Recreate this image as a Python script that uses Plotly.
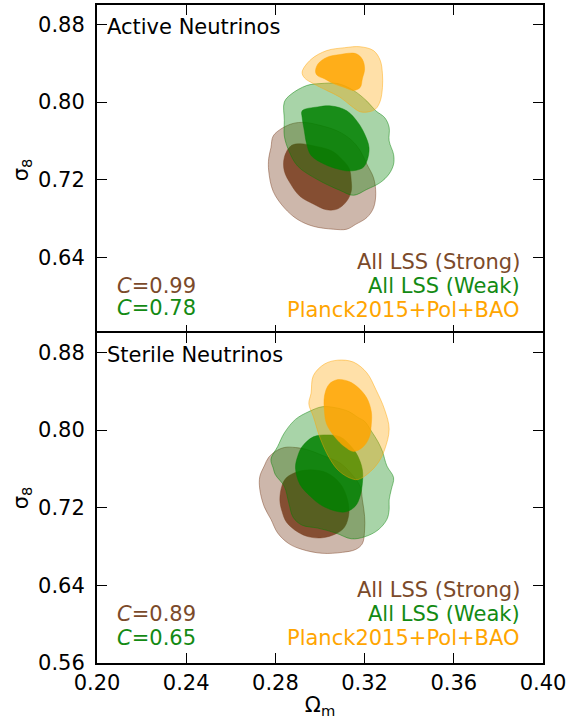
import plotly.graph_objects as go
from plotly.subplots import make_subplots

# ---------------- data (Omega_m, sigma_8) contour outlines ----------------
# Active neutrinos (top panel)
act_strong_outer_om = [0.278, 0.279, 0.283, 0.288, 0.293, 0.300, 0.308, 0.314, 0.318, 0.321, 0.324, 0.325,
                       0.324, 0.321, 0.316, 0.312, 0.306, 0.297, 0.290, 0.284, 0.279, 0.277, 0.277]
act_strong_outer_s8 = [0.753, 0.765, 0.773, 0.778, 0.779, 0.776, 0.770, 0.761, 0.750, 0.736, 0.722, 0.706,
                       0.691, 0.681, 0.674, 0.669, 0.669, 0.672, 0.679, 0.691, 0.708, 0.729, 0.742]
act_strong_inner_om = [0.287, 0.291, 0.297, 0.305, 0.309, 0.313, 0.314, 0.314, 0.312, 0.308, 0.303, 0.297,
                       0.291, 0.287, 0.284, 0.284]
act_strong_inner_s8 = [0.755, 0.757, 0.755, 0.750, 0.743, 0.732, 0.719, 0.708, 0.698, 0.690, 0.689, 0.695,
                       0.703, 0.715, 0.729, 0.743]
act_weak_outer_om = [0.284, 0.284, 0.287, 0.294, 0.300, 0.308, 0.315, 0.321, 0.325, 0.329, 0.331, 0.331,
                     0.333, 0.333, 0.331, 0.327, 0.321, 0.315, 0.309, 0.299, 0.290, 0.286, 0.284]
act_weak_outer_s8 = [0.781, 0.800, 0.808, 0.817, 0.819, 0.819, 0.812, 0.801, 0.791, 0.784, 0.774, 0.760,
                     0.746, 0.736, 0.726, 0.717, 0.710, 0.704, 0.709, 0.720, 0.734, 0.750, 0.765]
act_weak_inner_om = [0.292, 0.299, 0.305, 0.312, 0.317, 0.320, 0.322, 0.321, 0.319, 0.313, 0.308, 0.302,
                     0.296, 0.294, 0.293, 0.292]
act_weak_inner_s8 = [0.791, 0.795, 0.796, 0.791, 0.779, 0.767, 0.753, 0.739, 0.732, 0.729, 0.731, 0.736,
                     0.745, 0.757, 0.770, 0.784]
act_planck_outer_om = [0.292, 0.296, 0.303, 0.311, 0.318, 0.324, 0.327, 0.328, 0.328, 0.327, 0.325, 0.322,
                       0.318, 0.314, 0.309, 0.303, 0.297, 0.293]
act_planck_outer_s8 = [0.831, 0.844, 0.853, 0.856, 0.857, 0.853, 0.843, 0.829, 0.815, 0.801, 0.793, 0.790,
                       0.790, 0.796, 0.805, 0.812, 0.819, 0.825]
act_planck_inner_om = [0.298, 0.299, 0.303, 0.309, 0.316, 0.319, 0.320, 0.319, 0.318, 0.315, 0.311, 0.306,
                       0.302, 0.299]
act_planck_inner_s8 = [0.831, 0.839, 0.846, 0.849, 0.850, 0.844, 0.834, 0.824, 0.815, 0.812, 0.815, 0.819,
                       0.824, 0.827]

# Sterile neutrinos (bottom panel)
ste_strong_outer_om = [0.275, 0.277, 0.280, 0.284, 0.289, 0.294, 0.301, 0.309, 0.314, 0.318, 0.319, 0.320,
                       0.320, 0.319, 0.316, 0.310, 0.301, 0.292, 0.286, 0.281, 0.278, 0.275, 0.273, 0.273]
ste_strong_outer_s8 = [0.763, 0.772, 0.778, 0.782, 0.782, 0.780, 0.774, 0.766, 0.755, 0.742, 0.728, 0.711,
                       0.697, 0.683, 0.677, 0.674, 0.673, 0.677, 0.683, 0.694, 0.708, 0.721, 0.739, 0.752]
ste_strong_inner_om = [0.283, 0.285, 0.290, 0.296, 0.303, 0.309, 0.312, 0.313, 0.311, 0.307, 0.301, 0.295,
                       0.290, 0.285, 0.283, 0.282]
ste_strong_inner_s8 = [0.743, 0.751, 0.757, 0.759, 0.756, 0.745, 0.731, 0.715, 0.700, 0.693, 0.689, 0.690,
                       0.695, 0.705, 0.716, 0.728]
ste_weak_outer_om = [0.278, 0.281, 0.284, 0.289, 0.295, 0.301, 0.307, 0.313, 0.317, 0.320, 0.323, 0.326,
                     0.328, 0.330, 0.333, 0.332, 0.331, 0.331, 0.330, 0.326, 0.320, 0.314, 0.307, 0.299,
                     0.292, 0.288, 0.286, 0.284, 0.280, 0.279]
ste_weak_outer_s8 = [0.770, 0.783, 0.797, 0.811, 0.819, 0.824, 0.823, 0.819, 0.813, 0.809, 0.799, 0.788,
                     0.778, 0.763, 0.751, 0.739, 0.728, 0.718, 0.708, 0.697, 0.690, 0.688, 0.694, 0.699,
                     0.702, 0.710, 0.725, 0.742, 0.754, 0.761]
ste_weak_inner_om = [0.289, 0.290, 0.292, 0.297, 0.303, 0.309, 0.314, 0.317, 0.319, 0.319, 0.318, 0.316,
                     0.312, 0.308, 0.301, 0.296, 0.291]
ste_weak_inner_s8 = [0.761, 0.773, 0.783, 0.793, 0.795, 0.793, 0.783, 0.773, 0.759, 0.745, 0.732, 0.722,
                     0.716, 0.716, 0.722, 0.731, 0.744]
ste_planck_outer_om = [0.296, 0.297, 0.302, 0.308, 0.315, 0.321, 0.325, 0.329, 0.331, 0.329, 0.326, 0.322,
                       0.317, 0.313, 0.308, 0.304, 0.300, 0.297, 0.295]
ste_planck_outer_s8 = [0.838, 0.856, 0.868, 0.872, 0.870, 0.859, 0.842, 0.821, 0.801, 0.780, 0.766, 0.756,
                       0.749, 0.751, 0.759, 0.772, 0.792, 0.814, 0.827]
ste_planck_inner_om = [0.308, 0.313, 0.317, 0.321, 0.323, 0.323, 0.322, 0.319, 0.315, 0.311, 0.307, 0.303,
                       0.302, 0.302, 0.304]
ste_planck_inner_s8 = [0.852, 0.850, 0.844, 0.833, 0.819, 0.806, 0.792, 0.782, 0.778, 0.783, 0.792, 0.806,
                       0.819, 0.835, 0.847]

x_ticks = [0.20, 0.24, 0.28, 0.32, 0.36, 0.40]
y_ticks_top = [0.64, 0.72, 0.80, 0.88]
y_ticks_bottom = [0.56, 0.64, 0.72, 0.80, 0.88]

panel_titles = ["Active Neutrinos", "Sterile Neutrinos"]
series_labels = ["All LSS (Strong)", "All LSS (Weak)", "Planck2015+Pol+BAO"]
c_strong = ["0.99", "0.89"]
c_weak = ["0.78", "0.65"]

# ---------------- styling ----------------
BROWN = (120, 60, 28)
GREEN = (0, 128, 0)
ORANGE = (255, 165, 0)
TXT_BROWN = "#7B4A2A"
TXT_GREEN = "#138A13"
TXT_ORANGE = "#FFA500"
FONT = "DejaVu Sans"
FS = 21

PLOT_H = 719 - 5 - 56
HALF_LW = 1.0 / PLOT_H  # 1 px in domain units, so the shared frame line is drawn once

fig = make_subplots(rows=2, cols=1, shared_xaxes=True, vertical_spacing=0)


def rgba(c, a):
    return "rgba(%d,%d,%d,%.3f)" % (c[0], c[1], c[2], a)


def add_contour(om, s8, col, alpha, row, edge_alpha, edge_w):
    xs = list(om) + [om[0]]
    ys = list(s8) + [s8[0]]
    fig.add_trace(go.Scatter(
        x=xs, y=ys, mode="lines", fill="toself",
        fillcolor=rgba(col, alpha),
        line=dict(color=rgba(col, edge_alpha), width=edge_w, shape="spline", smoothing=1.0),
        hoverinfo="skip", showlegend=False), row=row, col=1)


panels = [
    (1, [(act_strong_outer_om, act_strong_outer_s8, act_strong_inner_om, act_strong_inner_s8, BROWN, 0.37),
         (act_weak_outer_om, act_weak_outer_s8, act_weak_inner_om, act_weak_inner_s8, GREEN, 0.34),
         (act_planck_outer_om, act_planck_outer_s8, act_planck_inner_om, act_planck_inner_s8, ORANGE, 0.34)]),
    (2, [(ste_strong_outer_om, ste_strong_outer_s8, ste_strong_inner_om, ste_strong_inner_s8, BROWN, 0.37),
         (ste_weak_outer_om, ste_weak_outer_s8, ste_weak_inner_om, ste_weak_inner_s8, GREEN, 0.34),
         (ste_planck_outer_om, ste_planck_outer_s8, ste_planck_inner_om, ste_planck_inner_s8, ORANGE, 0.34)]),
]

for row, sets in panels:
    for oom, os8, iom, is8, col, oa in sets:
        add_contour(oom, os8, col, oa, row, 0.45, 1.0)
        add_contour(iom, is8, col, 0.85, row, 0.85, 0.5)

axis_common = dict(
    showline=True, linewidth=2, linecolor="black", mirror="ticks",
    ticks="inside", ticklen=10, tickwidth=1, tickcolor="black",
    showgrid=False, zeroline=False,
    tickfont=dict(family=FONT, size=FS, color="black"),
)

fig.update_xaxes(range=[0.20, 0.40], tickvals=x_ticks, tickformat=".2f", **axis_common)
fig.update_xaxes(showticklabels=False, row=1, col=1)
fig.update_xaxes(title=dict(text="Ω<sub>m</sub>", font=dict(family=FONT, size=FS, color="black"), standoff=3),
                 row=2, col=1)
fig.update_yaxes(range=[0.56, 0.90], tickformat=".2f", ticklabelstandoff=6, **axis_common)
fig.update_yaxes(tickvals=y_ticks_top, domain=[0.5 - HALF_LW, 1.0], row=1, col=1)
fig.update_yaxes(tickvals=y_ticks_bottom, domain=[0.0, 0.5 + HALF_LW], row=2, col=1)
fig.update_yaxes(title=dict(text="σ<sub>8</sub>", font=dict(family=FONT, size=FS, color="black"), standoff=4))

annos = []
for i in range(2):
    xref = "x domain" if i == 0 else "x2 domain"
    yref = "y domain" if i == 0 else "y2 domain"
    annos.append(dict(text=panel_titles[i], x=0.018, y=0.932, xref=xref, yref=yref,
                      xanchor="left", yanchor="middle", showarrow=False,
                      font=dict(family=FONT, size=FS, color="black")))
    ys = [0.222, 0.149, 0.077] if i == 0 else [0.221, 0.147, 0.076]
    for lab, yy, colr in zip(series_labels, ys, [TXT_BROWN, TXT_GREEN, TXT_ORANGE]):
        annos.append(dict(text=lab, x=0.953, y=yy, xref=xref, yref=yref,
                          xanchor="right", yanchor="middle", showarrow=False,
                          font=dict(family=FONT, size=FS, color=colr)))
    annos.append(dict(text="<i>C</i>=" + c_strong[i], x=0.041, y=ys[1] if i == 1 else 0.148,
                      xref=xref, yref=yref, xanchor="left", yanchor="middle", showarrow=False,
                      font=dict(family=FONT, size=FS, color=TXT_BROWN)))
    annos.append(dict(text="<i>C</i>=" + c_weak[i], x=0.041, y=ys[2] if i == 1 else 0.081,
                      xref=xref, yref=yref, xanchor="left", yanchor="middle", showarrow=False,
                      font=dict(family=FONT, size=FS, color=TXT_GREEN)))

fig.update_layout(
    width=579, height=719,
    margin=dict(l=97, r=36, t=5, b=56, autoexpand=False),
    paper_bgcolor="white", plot_bgcolor="white",
    font=dict(family=FONT, size=FS, color="black"),
    annotations=annos,
    showlegend=False,
)

fig.write_html("out.html", config={"displayModeBar": False},
               post_script="document.body.style.margin='0';")
